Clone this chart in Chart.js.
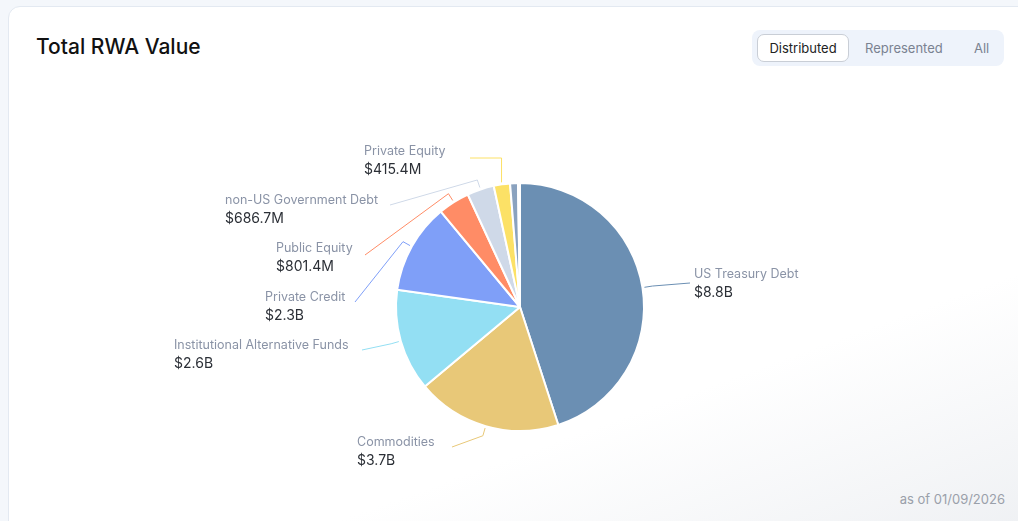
<!DOCTYPE html>
<html>
<head>
<meta charset="utf-8">
<script src="https://cdn.jsdelivr.net/npm/chart.js@4"></script>
<style>
  body { margin: 0; background: #f4f7fb; font-family: Inter, "Noto Sans", sans-serif; }
  .card { position: absolute; left: 8px; top: 6px; width: 1030px; height: 530px; border: 1px solid #e3e9f1; border-radius: 12px;
    background: linear-gradient(160deg, #ffffff 0%, #ffffff 70%, #eef0f3 100%); }
  h1 { position: absolute; left: 36px; top: 34px; margin: 0; font-size: 21px; font-weight: 500; color: #111; }
  .tabs { position: absolute; left: 752px; top: 30px; width: 252px; height: 36px; background: #eef3fb; border-radius: 8px; }
  .tabs span { position: absolute; top: 10px; font-size: 13px; color: #7a8291; }
  .tabs .on { left: 5px; top: 4px; width: 90px; height: 26px; line-height: 26px; text-align: center; background: #fff;
    border: 1px solid #c9ced6; border-radius: 7px; color: #222; }
  .asof { position: absolute; right: 13px; top: 491px; font-size: 13px; color: #9aa0aa; }
  #c { position: absolute; left: 0; top: 0; }
</style>
</head>
<body>
<div class="card"></div>
<h1>Total RWA Value</h1>
<div class="tabs">
  <span class="on">Distributed</span>
  <span style="left:113px">Represented</span>
  <span style="left:222px">All</span>
</div>
<div class="asof">as of 01/09/2026</div>
<div style="position:absolute;left:0;top:0;width:1018px;height:521px"><canvas id="c"></canvas></div>
<script>
const categories = ['US Treasury Debt', 'Commodities', 'Institutional Alternative Funds', 'Private Credit',
  'Public Equity', 'non-US Government Debt', 'Private Equity', 'Other', 'Other 2'];
const values = [8.8, 3.7, 2.6, 2.3, 0.8014, 0.6867, 0.4154, 0.2, 0.05];
const valueLabels = ['$8.8B', '$3.7B', '$2.6B', '$2.3B', '$801.4M', '$686.7M', '$415.4M', '', ''];
const colors = ['#6b8fb3', '#e8c878', '#93dff3', '#7f9ff8', '#ff8c66', '#cfd9e8', '#fce166', '#8aa2bf', '#b6a6e6'];

// label layout: line end point, text x, name baseline y
const labelPos = [
  { ex: 690, ey: 283, tx: 694, ty: 278 },
  { ex: 452, ey: 447, tx: 357, ty: 446 },
  { ex: 362, ey: 350, tx: 174, ty: 349 },
  { ex: 355, ey: 302, tx: 265, ty: 301 },
  { ex: 365, ey: 255, tx: 276, ty: 252 },
  { ex: 390, ey: 205, tx: 225, ty: 204 },
  { ex: 470, ey: 158, tx: 364, ty: 155 }
];

const labels = {
  id: 'labels',
  afterDraw(chart) {
    const ctx = chart.ctx;
    chart.getDatasetMeta(0).data.forEach((arc, i) => {
      const p = labelPos[i];
      if (!p) return;
      const mid = (arc.startAngle + arc.endAngle) / 2;
      const r = arc.outerRadius;
      const ax = arc.x + Math.cos(mid) * (r + 2), ay = arc.y + Math.sin(mid) * (r + 2);
      const bx = arc.x + Math.cos(mid) * (r + 10), by = arc.y + Math.sin(mid) * (r + 10);
      ctx.save();
      ctx.strokeStyle = colors[i];
      ctx.lineWidth = 1;
      ctx.beginPath();
      ctx.moveTo(ax, ay);
      if (i === 6) { ctx.lineTo(ax, p.ey); } else { ctx.lineTo(bx, by); }
      ctx.lineTo(p.ex, p.ey);
      ctx.stroke();
      ctx.textAlign = 'left';
      ctx.fillStyle = '#8a93a6';
      ctx.font = '12.5px Inter, "Noto Sans", sans-serif';
      ctx.fillText(categories[i], p.tx, p.ty);
      ctx.fillStyle = '#2b2f36';
      ctx.font = '14px Inter, "Noto Sans", sans-serif';
      ctx.fillText(valueLabels[i], p.tx, p.ty + 19);
      ctx.restore();
    });
  }
};

new Chart(document.getElementById('c'), {
  type: 'pie',
  data: {
    labels: categories,
    datasets: [{
      data: values,
      backgroundColor: colors,
      borderColor: '#ffffff',
      borderWidth: 2
    }]
  },
  options: {
    responsive: true,
    maintainAspectRatio: false,
    animation: false,
    layout: { padding: { left: 395, right: 373, top: 182, bottom: 89 } },
    plugins: { legend: { display: false }, tooltip: { enabled: false } }
  },
  plugins: [labels]
});
</script>
</body>
</html>
